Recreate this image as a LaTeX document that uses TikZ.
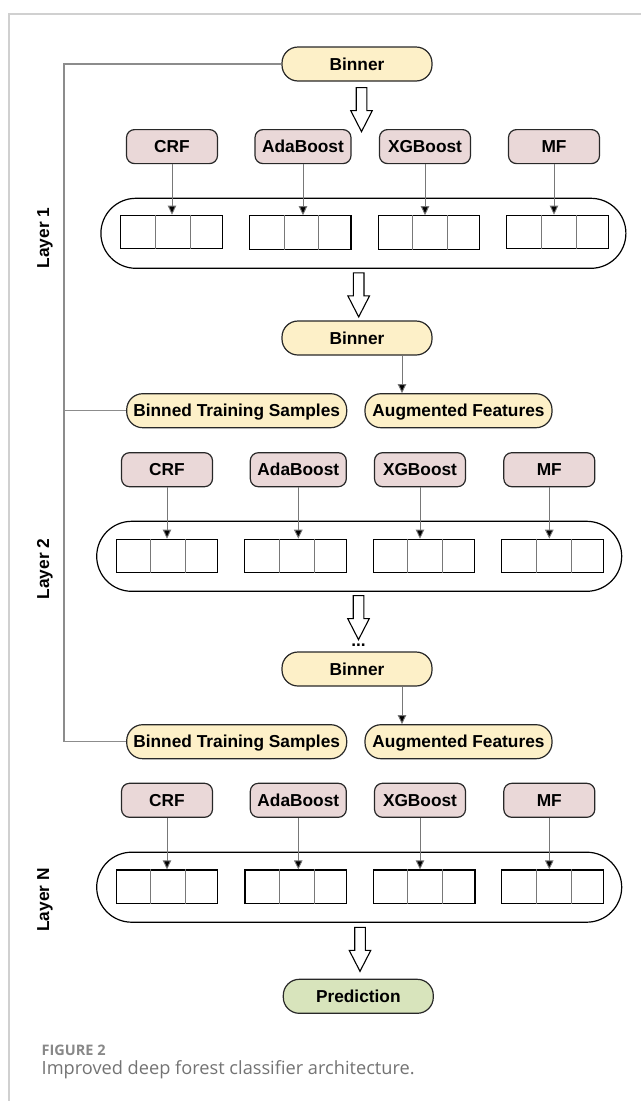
\documentclass[tikz,border=0pt]{standalone}
\usepackage{fontspec}
\setmainfont{Liberation Sans}
\newfontfamily\capfont{Open Sans}
\usetikzlibrary{arrows.meta,calc}
\definecolor{binfill}{RGB}{253,240,200}
\definecolor{clffill}{RGB}{234,216,216}
\definecolor{predfill}{RGB}{216,228,188}
\definecolor{edgec}{RGB}{40,40,40}
\definecolor{fbc}{RGB}{140,140,140}
\definecolor{framec}{RGB}{208,208,208}
\definecolor{capc}{RGB}{115,115,115}
\definecolor{divc}{RGB}{120,120,120}
\tikzset{
  boxfont/.style={font=\fontsize{17.3}{19}\selectfont\bfseries, text height=12.4pt, text depth=0pt},
  pill/.style={boxfont, draw=edgec, line width=1.2pt, fill=binfill, rounded corners=16pt, minimum height=34pt, minimum width=150pt, inner sep=0pt},
  predpill/.style={pill, fill=predfill},
  clf/.style={boxfont, draw=edgec, line width=1.2pt, fill=clffill, rounded corners=8pt, minimum height=34pt, minimum width=91pt, inner sep=0pt},
  cont/.style={draw=black, line width=1.2pt, rounded corners=35pt, minimum height=70pt, minimum width=525pt, inner sep=0pt},
  cellrow/.style={draw=black, line width=1.2pt, minimum height=33.5pt, minimum width=101.5pt, inner sep=0pt},
  divider/.style={draw=divc, line width=0.7pt},
  conn/.style={draw=divc, line width=0.9pt, -{Triangle[width=8.5pt,length=9pt,fill=black]}},
  fb/.style={draw=fbc, line width=1.1pt},
  framel/.style={draw=framec, line width=1.3pt},
  layerlab/.style={boxfont, rotate=90},
  barrow/.pic={\draw[line width=1.1pt, draw=black, fill=white, line join=miter]
     (-5.3,0) -- (5.3,0) -- (5.3,23) -- (10.8,23) -- (0,44) -- (-10.8,23) -- (-5.3,23) -- cycle;}
}
\begin{document}
\begin{tikzpicture}[x=1pt,y=-1pt]
\useasboundingbox (0,0) rectangle (641,1101);
% page frame
\draw[framel] (8,14) -- (641,14);
\draw[framel] (9,14) -- (9,1101);
% ---------- Layer 1
\node[pill] (bin1) at (357,64) {Binner};
\node[clf] (c11) at (172,146.6) {CRF};
\node[clf, minimum width=96pt] (c12) at (303,146.6) {AdaBoost};
\node[clf] (c13) at (425,146.6) {XGBoost};
\node[clf] (c14) at (554,146.6) {MF};
\node[cont] (k1) at (363.4,233.3) {};
\node[cellrow] (r11) at (171.5,232) {};
\node[cellrow] (r12) at (300.3,232.5) {};
\node[cellrow] (r13) at (429,232.5) {};
\node[cellrow] (r14) at (557.5,232) {};
\node[pill] (bin2) at (357,338) {Binner};
\node[pill, minimum width=220pt] (bts1) at (236.7,410.7) {Binned Training Samples};
\node[pill, minimum width=187pt] (aug1) at (458.5,410.7) {Augmented Features};
% ---------- Layer 2
\node[clf] (c21) at (167,469.7) {CRF};
\node[clf, minimum width=96pt] (c22) at (298.3,469.7) {AdaBoost};
\node[clf] (c23) at (420,469.7) {XGBoost};
\node[clf] (c24) at (549.3,469.7) {MF};
\node[cont] (k2) at (359.2,556.3) {};
\node[cellrow] (r21) at (167,556) {};
\node[cellrow] (r22) at (295.5,556) {};
\node[cellrow] (r23) at (424,556) {};
\node[cellrow] (r24) at (552.5,556) {};
\node[boxfont] (dots) at (358.5,640) {...};
\node[pill] (bin3) at (357,669) {Binner};
\node[pill, minimum width=220pt] (bts2) at (236.7,741.7) {Binned Training Samples};
\node[pill, minimum width=187pt] (aug2) at (458.5,741.7) {Augmented Features};
% ---------- Layer N
\node[clf] (c31) at (167,800.3) {CRF};
\node[clf, minimum width=96pt] (c32) at (298.3,800.3) {AdaBoost};
\node[clf] (c33) at (420,800.3) {XGBoost};
\node[clf] (c34) at (549.3,800.3) {MF};
\node[cont] (k3) at (359.2,887.2) {};
\node[cellrow] (r31) at (167,886.7) {};
\node[cellrow] (r32) at (295.8,886.7) {};
\node[cellrow] (r33) at (424.2,886.7) {};
\node[cellrow] (r34) at (552.5,886.7) {};
\node[predpill] (pred) at (358.3,996.3) {Prediction};
% layer labels
\node[layerlab] (lab1) at (43,238) {Layer 1};
\node[layerlab] (lab2) at (43,569) {Layer 2};
\node[layerlab] (lab3) at (43,900) {Layer N};
% cell dividers
\foreach \r in {r11,r12,r13,r14,r21,r22,r23,r24,r31,r32,r33,r34}{
  \draw[divider] ($(\r.north west)!0.34!(\r.north east)$) -- ($(\r.south west)!0.34!(\r.south east)$);
  \draw[divider] ($(\r.north west)!0.68!(\r.north east)$) -- ($(\r.south west)!0.68!(\r.south east)$);
}
% classifier arrows
\foreach \l in {1,2,3}{
  \foreach \i in {1,2,3,4}{
    \draw[conn] (c\l\i.south) -- (c\l\i.south |- r\l\i.north);
  }
}
% binner to augmented features
\coordinate (kx) at (402,0);
\draw[conn] (bin2.south -| kx) -- (aug1.north -| kx);
\draw[conn] (bin3.south -| kx) -- (aug2.north -| kx);
% feedback line
\coordinate (fbx) at (64,0);
\draw[fb] (bin1.west) -- (bin1.west -| fbx) -- (bts2.west -| fbx) -- (bts2.west);
\draw[fb] (bts1.west -| fbx) -- (bts1.west);
% block arrows
\pic at ($(bin1.south)+(4.5,6)$) {barrow};
\pic at ($(k1.south)+(-4.7,4)$) {barrow};
\pic at ($(k2.south)+(-0.7,3.7)$) {barrow};
\pic at ($(k3.south)+(0.8,4.5)$) {barrow};
% caption
\node[anchor=west, font=\capfont\fontsize{14.5}{18}\selectfont\bfseries, text=capc!85, inner sep=0pt] (figlab) at (41.5,1050) {FIGURE 2};
\node[anchor=west, font=\capfont\fontsize{18.2}{22}\selectfont, text=capc, inner sep=0pt] (figcap) at (41.5,1070) {Improved deep forest classifier architecture.};
\end{tikzpicture}
\end{document}
